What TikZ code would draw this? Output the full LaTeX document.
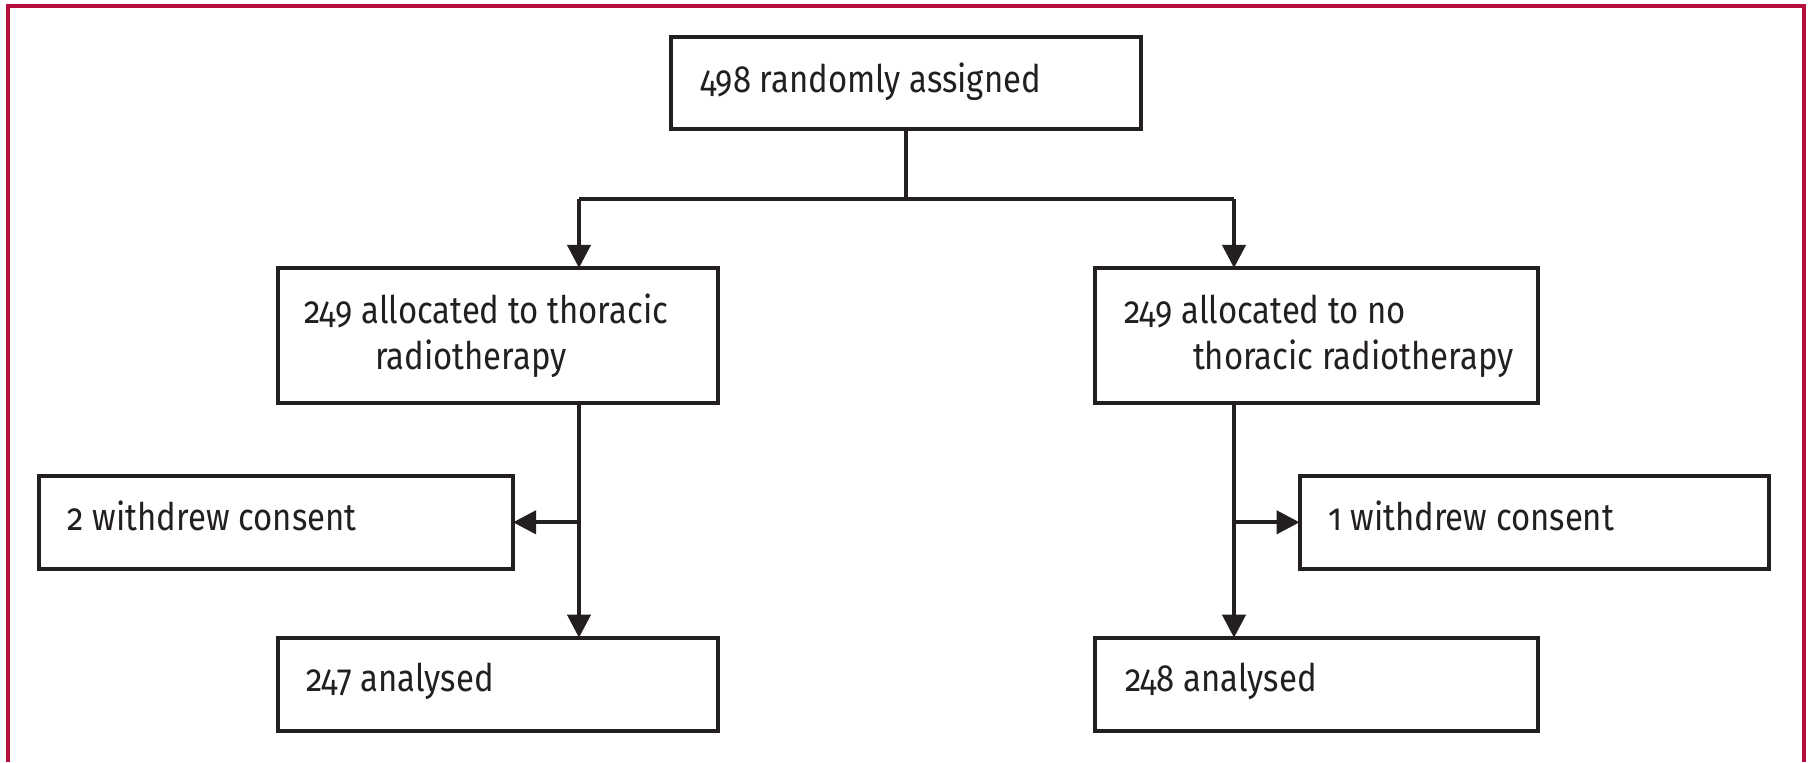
\documentclass[tikz,border=0pt]{standalone}
\usepackage{fontspec}
\setmainfont{Fira Sans}[Numbers=OldStyle, FakeStretch=0.865]
\usetikzlibrary{arrows.meta}
\definecolor{lancetred}{RGB}{181,14,60}
\definecolor{ink}{RGB}{35,31,32}
\begin{document}
\begin{tikzpicture}[x=0.5pt,y=-0.5pt,
  flowbox/.style={draw=ink, line width=2pt, inner sep=0pt, outer sep=0pt, fill=white},
  txt/.style={anchor=base west, inner sep=0pt, outer sep=0pt, text=ink, font=\fontsize{19}{22}\selectfont},
  conn/.style={draw=ink, line width=2pt},
  arr/.style={conn, -{Triangle[length=11.5pt,width=11.5pt]}}]
\useasboundingbox (0,0) rectangle (1810,762);
% frame
\draw[lancetred, line width=2pt] (8,762) -- (8,5.7) -- (1804,5.7) -- (1804,762);
% boxes
\node[flowbox, minimum width=235pt, minimum height=46pt] (top) at (906,83) {};
\node[flowbox, minimum width=220pt, minimum height=67.35pt] (L1) at (498,335.3) {};
\node[flowbox, minimum width=221.5pt, minimum height=67.35pt] (R1) at (1316.5,335.3) {};
\node[flowbox, minimum width=237pt, minimum height=46.35pt] (W2) at (276,522.3) {};
\node[flowbox, minimum width=234.7pt, minimum height=46.35pt] (W1) at (1534.3,522.3) {};
\node[flowbox, minimum width=220pt, minimum height=46.5pt] (A1) at (498,684.2) {};
\node[flowbox, minimum width=221.5pt, minimum height=46.5pt] (A2) at (1316.5,684.2) {};
% texts
\node[txt] (ttop) at (700,92.7) {498 randomly assigned};
\node[txt] (tL1a) at (304,323) {249 allocated to thoracic};
\node[txt] (tL1b) at (375,369) {radiotherapy};
\node[txt] (tR1a) at (1124,323) {249 allocated to no};
\node[txt] (tR1b) at (1193,369) {thoracic radiotherapy};
\node[txt] (tW2) at (68,530.7) {2 withdrew consent};
\node[txt] (tW1) at (1328,530.7) {1 withdrew consent};
\node[txt] (tA1) at (306,691) {247 analysed};
\node[txt] (tA2) at (1125,691) {248 analysed};
% connectors
\coordinate (jl) at (579,199);
\coordinate (jr) at (1234,199);
\draw[conn] (top.south) -- (top.south |- jl);
\draw[conn] (jl) -- (jr);
\draw[arr] (jl) -- (jl |- L1.north);
\draw[arr] (jr) -- (jr |- R1.north);
\draw[arr] (L1.south -| jl) -- (A1.north -| jl);
\draw[arr] (jl |- W2.east) -- (W2.east);
\draw[arr] (R1.south -| jr) -- (A2.north -| jr);
\draw[arr] (jr |- W1.west) -- (W1.west);
\end{tikzpicture}
\end{document}
